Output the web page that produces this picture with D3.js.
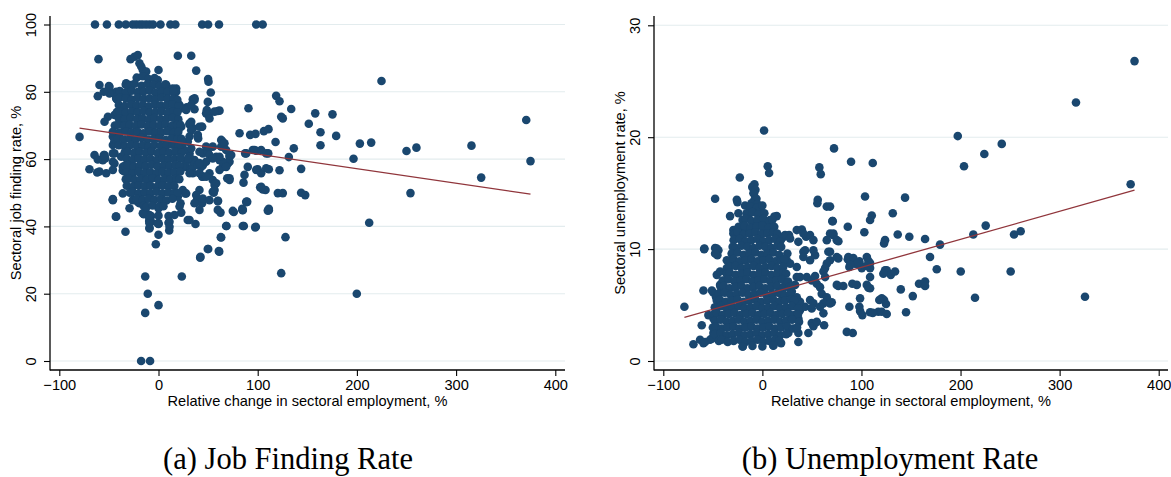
<!DOCTYPE html>
<html>
<head>
<meta charset="utf-8">
<script src="https://cdn.jsdelivr.net/npm/d3@7"></script>
<style>
  body { margin: 0; background: #fff; }
  svg { display: block; }
  .tick text, .axis-title { font-family: "Liberation Sans", Arial, Helvetica, sans-serif; fill: #000; }
  .caption { font-family: "Liberation Serif", "Times New Roman", serif; fill: #000; }
</style>
</head>
<body>
<svg id="chart" width="1171" height="477"></svg>
<script>
// ---------- shared axis ticks ----------
const xTicks = [-100, 0, 100, 200, 300, 400];
const jfTicks = [0, 20, 40, 60, 80, 100];
const urTicks = [0, 10, 20, 30];

const xTitle = "Relative change in sectoral employment, %";
const jfTitle = "Sectoral job finding rate, %";
const urTitle = "Sectoral unemployment rate, %";
const captions = ["(a) Job Finding Rate", "(b) Unemployment Rate"];

// ---------- (a) job finding rate: [relative change %, job finding rate %] ----------
const jfFull = [
  [-64,100],[-52,100],[-40,100],[-33,100],[-26,100],[-22.5,100],[-19,100],[-16,100],[-12.5,100],
  [-9,100],[-5.5,100],[2,100],[12,100],[17,100],[44,100],[50,100],[61,100],[98.5,100],[105,100]
];
const jfZero = [[-17.5,0],[-8.5,0]];

const jfLow = [
  [-13.4,25.1],[23.5,25.1],[-10.8,20],[-13.4,14.3],[0,16.6],[-2.7,34.7],[0,37.5],[-33.3,38.4],
  [-43,42.9],[-29.2,45.4],[-9.1,39.6],[-9.4,41.6],[-14.8,43.6],[-7.4,43.1],[0,40.7],[0,43.2],
  [10.1,43.1],[10.1,41.1],[10.8,38.8],[22.9,44.1],[22.2,46.9],[29.5,41.9],[37.3,40.7],[42,30.7],
  [50.1,33.3],[61.2,32.5],[62.8,36.8],[68.5,40.1],[75.9,44.3],[84.7,44.8],[86,40.1],[98.1,39.9],
  [89.4,47.3],[111.2,44.8],[128,36.8],[123.7,26.1],[60,47.6],[43,47.2],[39,48],[-46,47.8],
  [212.4,41.1],[199.9,20]
];

const jfWide = [
  [224.8,83.2],[370.7,71.6],[375,59.4],[325.3,54.5],[315.5,64],[254,49.9],[250,62.4],[260,63.4],
  [214.4,64.9],[203,64.6],[196.6,60.1],[179.1,66.9],[175.4,73.3],[163.3,68],[163.3,64.1],[158,73.6],
  [151.5,70.5],[133.8,74.9],[118.6,78.8],[122,77.2],[123.7,72.6],[125.3,72.1],[90.7,75.1],[81.7,67.7],
  [92.4,67.2],[97.8,67.5],[106.2,68.3],[110.9,68.9],[118,65.1],[136.4,63.2],[131.4,60.6],[110.6,61.7],
  [95,62.7],[98.5,62.5],[87.4,61.7],[71.6,60.7],[71.6,59.2],[90,57.7],[100,57],[103.5,55.8],
  [108.6,57.3],[111.2,57],[122,56.7],[143.8,57.1],[86.7,55.3],[85.7,53],[71.6,54.3],[102.5,51.6],
  [105.1,51],[107.9,50.8],[120.3,49.9],[125.3,49.9],[143.8,50],[147.9,49.3],[89,47.3],[84.4,45.2],
  [74.9,44.6],[111.2,45.2]
];

const jfNear = [
  [-60.5,89.7],[-61.2,78.7],[-79.6,66.6],[-69.6,57],[-61.8,56],[19.5,90.7],[33,90.7],[38,86.3],
  [50,83.8],[50.4,83],[52.7,79.8],[49.7,77],[48.7,74.6],[50.4,73.1],[59.8,74.3],[61.5,74.4],
  [73.3,61.2],[69.9,58.7],[64.8,57.7],[61.5,56.8],[69.3,54.3],[71.6,53.8],[54.7,53.8],[56.5,52.3],
  [54.7,50.3],[44.7,54.8],[43,57.7],[27.9,57.7],[34.6,57.7],[36.3,59.7],[40,66.1],[43.6,69.6],
  [34.6,69.2],[33,71.1],[31.3,70.3],[36.3,74.8],[34.6,77.8],[36.3,78.1],[28.5,75.4],[21.2,76.1],
  [22.9,75.1],[14.4,74.6],[-28.2,89.7],[-24.2,90.4],[-20.9,90.9],[-19.2,88.5],[-17.4,87.5],[-15.8,86.5],
  [-12.4,86],[0,86.5],[-50,81.7],[-47.7,79.7],[-42.6,80],[-39.3,79.5],[-42.6,78],[-32.6,82.5],
  [-27.5,82],[-31,78.5],[-0.7,83.5],[7.8,82],[17.8,81],[17.8,80],[11.1,77.1],[36.3,77.6],
  [-40,74.1],[-36,74.6],[-36,72.6],[31.3,70.6],[33,68.6],[39.6,66.7],[31.3,66.7],[44,69.6],
  [17.8,70.6],[19.5,68.6],[64.2,65.4],[-55.1,61.2],[-53.7,60.2],[-56.1,59.7],[-46,59.2],[-46,64.2],
  [-44.4,61.7],[-46,48],[-36,49.8],[-36,56.6],[-20.9,47.3],[-14.1,46.4],[-12.4,43.9],[-9.1,42.4],
  [-7.4,41.4],[-9.1,39.4],[0,45.4],[0,40.9],[26.9,49.8],[19.5,48.8],[24.5,50.8],[31.3,61.7],
  [35.3,59.2],[39.6,58.2],[44.7,58.2],[44.7,61.7],[49.7,62.2],[51.4,61.2],[58.2,60.7],[61.5,59.7],
  [64.8,59.2],[68.2,57.7],[71.6,61.2],[63.2,63.7],[88.4,61.7],[96.8,62.7],[103.5,62.7],[108.6,61.7],
  [98.5,56.8],[103.5,51.8],[110.2,44.7],[88.4,47.3],[85,44.9],[85,40.1],[97.5,39.7],[68.2,40.1],
  [63.2,36.7],[49.7,33.3],[42.3,31],[60.8,32.7],[34.6,55.8],[44,54.8],[51.4,55.8],[57.1,52.8],
  [59.8,47.5],[55.7,50],[38,47.3],[44,46.9],[44.7,48.3],[62.5,44.1],[22.9,64.2],[26.2,62.7],
  [31.3,60.7],[27.9,59.2],[21.2,75.6],[27.9,74.6],[33,76.1],[48,73.6],[56.5,74.1],[51.4,72.1],
  [19.5,71.1],[22.9,69.6],[41.3,69.6],[39.6,67.2],[29.5,65.2],[24.5,64.7],[21.2,62.7],[33,63.2],
  [41.3,62.2],[48,63.7],[54.7,63.7],[63.2,65.7],[66.5,64.7],[68.2,62.7],[61.5,60.7],[54.7,60.2],
  [48,59.2],[41.3,58.8],[29.5,60.2],[24.5,57.7],[31.3,55.8],[41.3,55.8],[48,54.8],[58.2,52.8],
  [56.5,50.8],[41.3,50.8],[38,49.3],[27.9,49.8],[36.3,46.9],[51.4,47.8],[59.8,44.9],[41.3,44.9],
  [31.3,41.9],[21.2,45.9],[16.1,43.4],[11.1,41.4],[11.1,39.9],[1,45.9],[-9.1,43.4],[-15.8,43.9],
  [-19.2,46.9],[-9.1,40.9],[-0.7,40.9],[-25.9,47.8],[-54.4,61.2],[-59.5,56.3],[-46,48.1],[-34.3,56.3],
  [-42.6,42.9],[-51,72.6],[-54.4,71.1],[-46,66.7],[-44.4,65.2],[-41,74.1],[-44.4,73.1],[-39.3,70.6],
  [-41,67.7],[-44.4,64.7],[-46,61.7],[-44.4,58.7],[-37.6,60.7],[-59.5,82],[-49.4,81.5],[-42.6,78.5],
  [-49.4,79.5],[-55.1,80],[-64.5,61.2],[-61.2,59.9],[-54.4,60.7],[-52.7,55.8],[-46,56.8],[-36,57.7],
  [-29.2,56.8],[7.8,81.7],[14.4,81],[16.1,79.5]
];

// densely packed sectors around zero change
const jfCore = [
  [-22,84.2],[-16,84.6],[-10,83.8],[-4,84.1],
  [-33,82.1],[-30,81.8],[-24,82.4],[-17,81.8],[-11,82.3],[-5,82],[1,81.7],[7,82.2],
  [-39,80.2],[-33,79.8],[-27,80.3],[-21,79.9],[-15,80.1],[-9,80.4],[-3,79.7],[3,80.1],[9,79.9],[15,80.2],
  [-42,77.8],[-39,78.3],[-33,78.1],[-27,77.7],[-21,78.2],[-15,77.9],[-9,78.1],[-3,77.8],[3,78.3],[9,77.9],[15,78],[19,77.6],
  [-40,76.1],[-34,75.8],[-28,76.2],[-22,75.9],[-16,76.1],[-10,75.7],[-4,76.2],[2,75.9],[8,76],[14,76.3],[20,75.7],
  [-42,73.9],[-39,74.2],[-33,73.8],[-27,74.1],[-21,73.9],[-15,74.3],[-9,73.8],[-3,74],[3,74.2],[9,73.7],[15,74.1],[19,73.9],
  [-40,72.1],[-34,71.8],[-28,72.2],[-22,71.9],[-16,72.1],[-10,71.7],[-4,72.2],[2,71.9],[8,72],[14,72.3],[20,71.8],
  [-44,70],[-41,70.2],[-35,69.8],[-29,70.1],[-23,69.9],[-17,70.3],[-11,69.8],[-5,70.1],[1,69.9],[7,70.2],[13,69.8],[19,70.1],[22,70.2],
  [-46,68.1],[-39,67.8],[-33,68.2],[-27,67.9],[-21,68.1],[-15,67.7],[-9,68.2],[-3,67.9],[3,68],[9,68.3],[15,67.8],[20,68.1],
  [-44,65.9],[-41,66.2],[-35,65.8],[-29,66.1],[-23,65.9],[-17,66.3],[-11,65.8],[-5,66],[1,66.2],[7,65.7],[13,66.1],[19,65.9],[23,66],
  [-40,64.1],[-34,63.8],[-28,64.2],[-22,63.9],[-16,64.1],[-10,63.7],[-4,64.2],[2,63.9],[8,64],[14,64.3],[20,63.8],
  [-34,62],[-31,62.2],[-25,61.8],[-19,62.1],[-13,61.9],[-7,62.3],[-1,61.8],[5,62.1],[11,61.9],[17,62.2],[23,61.8],
  [-32,60.1],[-26,59.8],[-20,60.2],[-14,59.9],[-8,60.1],[-2,59.7],[4,60.2],[10,59.9],[16,60],[22,60.3],
  [-34,58],[-31,58.2],[-25,57.8],[-19,58.1],[-13,57.9],[-7,58.3],[-1,57.8],[5,58.1],[11,57.9],[17,58.2],[21,58],
  [-32,56.1],[-26,55.8],[-20,56.2],[-14,55.9],[-8,56.1],[-2,55.7],[4,56.2],[10,55.9],[16,56],[22,56.3],
  [-33,54],[-30,54.2],[-24,53.8],[-18,54.1],[-12,53.9],[-6,54.3],[0,53.8],[6,54.1],[12,53.9],[18,54.2],[21,54],
  [-32,52.1],[-26,51.8],[-20,52.2],[-14,51.9],[-8,52.1],[-2,51.7],[4,52.2],[10,51.9],[16,52],
  [-29,50],[-26,50.2],[-20,49.8],[-14,50.1],[-8,49.9],[-2,50.3],[4,49.8],[10,50.1],[16,49.9],[19,50],
  [-22,48.1],[-16,47.8],[-10,48.2],[-4,47.9],[2,48.1],[8,47.7],[14,48.2],
  [-15,46.1],[-12,45.8],[-6,46.2],[1,45.9],[5,46]
];

// fitted line endpoints (min and max x)
const jfFit = [[-79.6, 69.2], [375, 49.6]];

// ---------- (b) unemployment rate: [relative change %, unemployment rate %] ----------
const urWide = [
  [375.6,26.8],[316.5,23.1],[197.2,20.1],[241.6,19.4],[224,18.5],[203.5,17.4],[111.4,17.7],[371.7,15.8],
  [144,14.6],[131.6,13.2],[110.4,13],[108.7,12.6],[225.4,12.1],[212.9,11.3],[254,11.3],[260.7,11.6],
  [136.6,11.3],[148.3,11.1],[164.2,10.9],[123.8,10.8],[122.8,10.5],[179.3,10.4],[169.2,9.3],[176,8.2],
  [200.2,8],[250.6,8],[108.7,8.75],[108.7,8.3],[108.7,7.5],[108.7,6.5],[123.8,8.1],[125.5,8.1],
  [129.6,7.7],[133.9,8],[122.1,7.8],[139.7,6.4],[151.8,5.8],[158.1,6.9],[164.2,7.1],[164.2,6.7],
  [214.6,5.65],[325.6,5.74],[120.5,5.6],[122.8,5.45],[124.8,5.1],[118,5.45],[108.7,4.35],[117,4.4],
  [120.5,4.4],[125.5,4.2],[145,4.35]
];

const urNear = [
  [72.3,19],[89.5,17.8],[103.6,14.7],[68.3,13.8],[71,12.5],[86.2,12],[102.9,11.5],[68.3,11.4],
  [71.7,11.25],[76.7,10.7],[68.3,9.76],[68.3,9],[76.7,9.17],[86.2,9.1],[87.8,8.4],[93.5,8.7],
  [98.6,8.6],[100.3,8.3],[107,8.95],[76.7,6.7],[81.7,6.7],[90.8,6.9],[95.3,6.8],[107,6.55],
  [98.6,5.6],[70,5.24],[87.8,4.85],[97.9,4.85],[98.6,4.46],[100.9,4.1],[111.4,4.3],[85.2,2.6],
  [91.2,2.5],[1.7,20.6],[5.4,17.4],[6.8,16.8],[-22.8,16.4],[-10,15.6],[-8,15.8],[-8.4,15],
  [-7.4,14.4],[-47.7,14.5],[-25.8,14.4],[57.5,17.3],[58.9,16.7],[55.9,14.4],[-25.2,14.2],[-17.5,13.9],
  [-5.7,13.9],[-2.3,13.6],[-32.6,12.95],[-14.1,12.8],[55.5,14.1],[65,13.8],[70.6,12.5],[14.5,12.95],
  [9.5,12.6],[4.4,12.3],[-29.3,11.7],[-27.5,11.1],[22.9,11.25],[19.6,10.95],[34.7,11.7],[39.8,11.75],
  [44.1,11.1],[36.3,10.65],[65,10.8],[71.6,11.4],[75.1,10.8],[-58.8,10],[-47.7,10.1],[-44.4,9.9],
  [-45.4,9.46],[7.8,10.06],[43.1,9.9],[51.5,9.9],[53.2,9.46],[48.1,9],[66.6,9.76],[75.1,9.3],
  [24.6,9],[28,8.7],[34.7,8.4],[65,8.7],[63.3,8.3],[61.6,8],[44.8,7.5],[49.8,7.2],
  [53.2,7.6],[54.9,6.9],[58.2,6.6],[59.9,6],[65,5.7],[61.6,5.15],[68.3,5.15],[61.6,4.26],
  [62.3,3.2],[34.7,7.5],[38,7.5],[33,6.8],[-46,7.7],[-35.9,7.3],[-42.7,6.8],[-41,6.5],
  [-49.4,6.1],[-59.5,6.3],[-46.7,5.7],[-78.7,4.85],[-61.2,3.2],[-69.6,1.5],[-62.9,1.9],[-59.5,1.6],
  [-52.8,1.9],[-49.4,2.5],[-19.8,1.3],[11.1,1.37],[17.9,1.7],[26.2,2.5],[36.3,2.5],[36.3,1.7],
  [46.4,2.5],[49.8,3.4],[51.5,3.1],[54.9,3.5],[29.7,3.95],[36.3,3.8],[38,4.55],[43.1,4.85],
  [33,5.15],[38,5.3],[48.1,5.45],[51.5,5.15],[49.8,4.7],[58.2,4.85],[75.1,6.8],[21.2,6.6],
  [29.7,6.2],[34.7,5.7],[19.6,5.9],[-54.5,4.1],[-49.4,3.8],[-57.8,1.7],[-51,2],[-46,2.5],
  [-51,6.3],[18.9,1.6],[105.4,6.8],[63.3,7.5],[105.4,9.3],[97.9,8.9],[105.4,8.5],[86.8,9.3],
  [91.8,9.2],[95.3,8.7],[88.5,8.6],[48.1,11.25],[41.4,11.4],[51.5,10.8],[41.4,9.76],[41.4,9.3],
  [25.2,9.6],[26.9,11.25],[21.2,11.1],[28,10.95],[12.1,12.9],[7.8,12.6],[2.7,12.1],[1,11.7],
  [-5.7,13.5],[-7.4,13.8],[-12.4,13.6],[-4,13],[-15.7,12.9],[-24.2,13.2],[-29.3,11.4],[-25.8,11.5],
  [-15.7,11.5],[-19.2,11.85],[-46,10.06],[-47.7,9.6],[-58.5,10.06],[-42.7,8],[-35.9,8.3],[-30.9,9],
  [-35.9,9]
];

// densely packed sectors around zero change
const urCore = [
  [-10,15.5],[-7,15.3],[-9,15],[-8,14.4],[-6,14.5],[-11,14.1],[-5,14],
  [-12,13.8],[-6,13.7],[0,13.9],
  [-16,13.2],[-10,13.3],[-4,13.1],[2,13.2],
  [-20,12.6],[-17,12.7],[-11,12.5],[-5,12.6],[1,12.7],[7,12.5],[10,12.6],
  [-24,12],[-18,12.1],[-12,11.9],[-6,12],[0,12.1],[6,11.9],[12,12],
  [-28,11.4],[-25,11.5],[-19,11.3],[-13,11.4],[-7,11.5],[-1,11.3],[5,11.4],[11,11.5],[15,11.4],
  [-29,10.8],[-23,10.9],[-17,10.7],[-11,10.8],[-5,10.9],[1,10.7],[7,10.8],[13,10.9],[18,10.7],
  [-30,10.2],[-27,10.1],[-21,10.3],[-15,10.2],[-9,10.1],[-3,10.3],[3,10.2],[9,10.1],[15,10.3],[19,10.2],
  [-31,9.6],[-25,9.7],[-19,9.5],[-13,9.6],[-7,9.7],[-1,9.5],[5,9.6],[11,9.7],[17,9.5],
  [-32,9],[-29,9.1],[-23,8.9],[-17,9],[-11,9.1],[-5,8.9],[1,9],[7,9.1],[13,8.9],[19,9],[22,9.1],
  [-33,8.4],[-27,8.5],[-21,8.3],[-15,8.4],[-9,8.5],[-3,8.3],[3,8.4],[9,8.5],[15,8.3],[21,8.4],
  [-36,7.8],[-33,7.9],[-27,7.7],[-21,7.8],[-15,7.9],[-9,7.7],[-3,7.8],[3,7.9],[9,7.7],[15,7.8],[21,7.9],[24,7.8],
  [-40,7.2],[-34,7.3],[-28,7.1],[-22,7.2],[-16,7.3],[-10,7.1],[-4,7.2],[2,7.3],[8,7.1],[14,7.2],[20,7.3],[26,7.1],
  [-42,6.6],[-39,6.7],[-33,6.5],[-27,6.6],[-21,6.7],[-15,6.5],[-9,6.6],[-3,6.7],[3,6.5],[9,6.6],[15,6.7],[21,6.5],[27,6.6],[30,6.7],
  [-44,6],[-38,6.1],[-32,5.9],[-26,6],[-20,6.1],[-14,5.9],[-8,6],[-2,6.1],[4,5.9],[10,6],[16,6.1],[22,5.9],[28,6],
  [-46,5.4],[-43,5.5],[-37,5.3],[-31,5.4],[-25,5.5],[-19,5.3],[-13,5.4],[-7,5.5],[-1,5.3],[5,5.4],[11,5.5],[17,5.3],[23,5.4],[29,5.5],[32,5.4],
  [-48,4.8],[-42,4.9],[-36,4.7],[-30,4.8],[-24,4.9],[-18,4.7],[-12,4.8],[-6,4.9],[0,4.7],[6,4.8],[12,4.9],[18,4.7],[24,4.8],[30,4.9],[36,4.7],
  [-49,4.2],[-46,4.3],[-40,4.1],[-34,4.2],[-28,4.3],[-22,4.1],[-16,4.2],[-10,4.3],[-4,4.1],[2,4.2],[8,4.3],[14,4.1],[20,4.2],[26,4.3],[32,4.1],[36,4.2],
  [-48,3.6],[-42,3.7],[-36,3.5],[-30,3.6],[-24,3.7],[-18,3.5],[-12,3.6],[-6,3.7],[0,3.5],[6,3.6],[12,3.7],[18,3.5],[24,3.6],[30,3.7],[37,3.5],
  [-50,3],[-47,3.1],[-41,2.9],[-35,3],[-29,3.1],[-23,2.9],[-17,3],[-11,3.1],[-5,2.9],[1,3],[7,3.1],[13,2.9],[19,3],[25,3.1],[31,2.9],[35,3],
  [-48,2.4],[-42,2.5],[-36,2.3],[-30,2.4],[-24,2.5],[-18,2.3],[-12,2.4],[-6,2.5],[0,2.3],[6,2.4],[12,2.5],[18,2.3],[24,2.4],
  [-44,1.8],[-41,1.9],[-35,1.7],[-29,1.8],[-23,1.9],[-17,1.7],[-11,1.8],[-5,1.9],[1,1.7],[7,1.8],[13,1.9],[17,1.8],
  [-20,1.3],[-10,1.35],[0,1.3],[11,1.4]
];

const urFit = [[-78.7, 3.9], [375.6, 15.27]];

const jobFinding = [...jfFull, ...jfZero, ...jfLow, ...jfWide, ...jfNear, ...jfCore];
const unemployment = [...urWide, ...urNear, ...urCore];

// ---------- drawing ----------
const svg = d3.select("#chart");
const dotColor = "#1a476f";
const fitColor = "#90353b";
const gridColor = "#e3ecee";
const fontSize = 14.6;

function drawPanel(opt) {
  const g = svg.append("g");
  const x = d3.scaleLinear().domain([-100, 400]).range(opt.xRange);
  const y = d3.scaleLinear().domain(opt.yDomain).range([361, opt.yTop]);

  // horizontal grid lines
  g.append("g").selectAll("line").data(opt.yTicks).join("line")
    .attr("x1", opt.left).attr("x2", opt.right)
    .attr("y1", d => y(d)).attr("y2", d => y(d))
    .attr("stroke", gridColor).attr("stroke-width", 1.1);

  // markers
  g.append("g").selectAll("circle").data(opt.data).join("circle")
    .attr("cx", d => x(d[0])).attr("cy", d => y(d[1]))
    .attr("r", 4.3).attr("fill", dotColor);

  // linear fit
  g.append("path")
    .attr("d", d3.line().x(d => x(d[0])).y(d => y(d[1]))(opt.fit))
    .attr("fill", "none").attr("stroke", fitColor).attr("stroke-width", 1.3);

  // y axis
  const ya = g.append("g").attr("transform", `translate(${opt.left},0)`)
    .call(d3.axisLeft(y).tickValues(opt.yTicks).tickSize(6).tickSizeOuter(0).tickFormat(d3.format("d")));
  ya.select(".domain").remove();
  ya.selectAll(".tick line").attr("stroke", "#000").attr("stroke-width", 1.1);
  ya.selectAll(".tick text")
    .attr("x", 0).attr("dy", 0).attr("text-anchor", "middle")
    .attr("transform", "translate(-14.5,0) rotate(-90)")
    .style("font-size", fontSize + "px");

  // x axis
  const xa = g.append("g").attr("transform", "translate(0,370)")
    .call(d3.axisBottom(x).tickValues(xTicks).tickSize(6).tickSizeOuter(0)
      .tickFormat(d => d < 0 ? "\u2212" + Math.abs(d) : String(d)));
  xa.select(".domain").remove();
  xa.selectAll(".tick line").attr("stroke", "#000").attr("stroke-width", 1.1);
  xa.selectAll(".tick text").attr("y", 20).attr("dy", 0).style("font-size", fontSize + "px");

  // axis lines
  g.append("line").attr("x1", opt.left).attr("x2", opt.left).attr("y1", 16).attr("y2", 370.6)
    .attr("stroke", "#000").attr("stroke-width", 1.3);
  g.append("line").attr("x1", opt.left).attr("x2", opt.right).attr("y1", 370).attr("y2", 370)
    .attr("stroke", "#000").attr("stroke-width", 1.3);

  // axis titles
  g.append("text").attr("class", "axis-title")
    .attr("x", (opt.left + opt.right) / 2).attr("y", 405.5)
    .attr("text-anchor", "middle").style("font-size", fontSize + "px")
    .text(xTitle);
  g.append("text").attr("class", "axis-title")
    .attr("transform", `translate(${opt.left - 29},193) rotate(-90)`)
    .attr("text-anchor", "middle").style("font-size", fontSize + "px")
    .text(opt.yTitle);

  // caption
  g.append("text").attr("class", "caption")
    .attr("x", opt.captionX).attr("y", 469)
    .attr("text-anchor", "middle").style("font-size", "30.5px")
    .text(opt.caption);
}

drawPanel({
  data: jobFinding, fit: jfFit, yDomain: [0, 100], yTicks: jfTicks, yTop: 24.5,
  xRange: [59.3, 555.3], left: 50, right: 565, yTitle: jfTitle,
  caption: captions[0], captionX: 288
});

drawPanel({
  data: unemployment, fit: urFit, yDomain: [0, 30], yTicks: urTicks, yTop: 25.3,
  xRange: [663.3, 1158.7], left: 654, right: 1168, yTitle: urTitle,
  caption: captions[1], captionX: 890
});
</script>
</body>
</html>
